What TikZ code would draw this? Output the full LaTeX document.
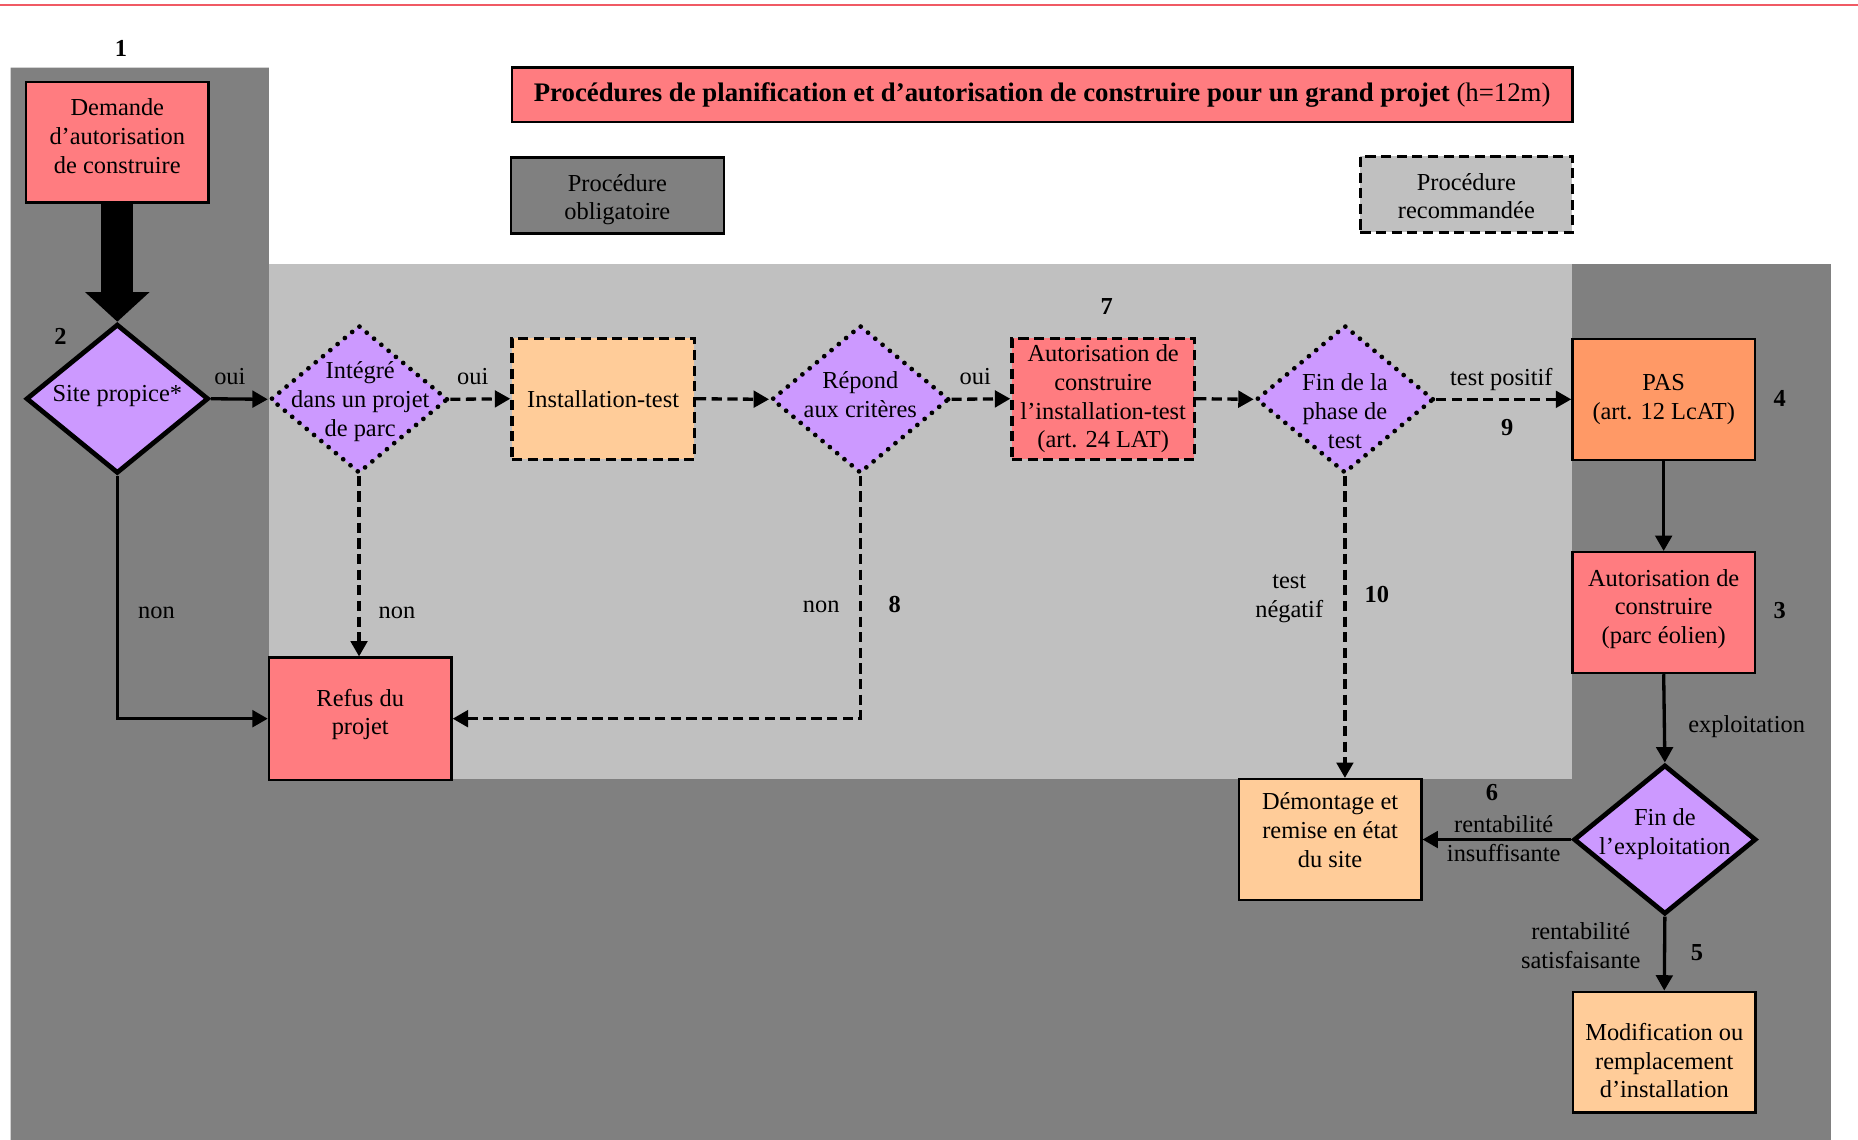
\documentclass[tikz,border=0pt]{standalone}
\usepackage{fontspec}
\setmainfont{Liberation Serif}
\usetikzlibrary{shapes.geometric,arrows.meta}
\definecolor{rosebox}{RGB}{255,124,128}
\definecolor{lav}{RGB}{204,153,255}
\definecolor{peach}{RGB}{255,204,153}
\definecolor{orangebox}{RGB}{255,153,102}
\definecolor{dgray}{RGB}{128,128,128}
\definecolor{lgray}{RGB}{192,192,192}
\definecolor{topred}{RGB}{240,90,100}
\newcommand\myfs{\fontsize{10.3}{12.2}\selectfont}
\begin{document}
\begin{tikzpicture}[x=0.5pt,y=-0.5pt,
  box/.style={draw, line width=1pt, inner sep=1pt, align=center, font=\myfs, minimum width=77pt, minimum height=51pt},
  dashbox/.style={box, line width=1.4pt, dash pattern=on 4.3pt off 2.3pt},
  sdiam/.style={diamond, draw, line width=2pt, fill=lav, inner sep=0pt, minimum width=77pt, minimum height=63pt},
  ddiam/.style={diamond, draw, fill=lav, line width=2pt, line cap=round, dash pattern=on 0pt off 4pt, inner sep=0pt, minimum width=75pt, minimum height=62.5pt},
  txt/.style={font=\myfs, align=center, inner sep=0pt},
  num/.style={font=\myfs\bfseries, inner sep=0pt},
  conn/.style={line width=1.4pt, -{Triangle[length=6.5pt,width=7pt]}},
  dconn/.style={conn, dash pattern=on 4.3pt off 2.3pt},
]
% background
\useasboundingbox (0,0) rectangle (1568,962);
\fill[white] (0,0) rectangle (1568,962);
\draw[topred, line width=1pt] (0,4) -- (1568,4);
\fill[dgray] (9,57) -- (227,57) -- (227,223) -- (1545,223) -- (1545,962) -- (9,962) -- cycle;
\fill[lgray] (227,223) rectangle (1327,657);

% title and legend
\node[box, fill=rosebox, minimum width=447.5pt, minimum height=23pt, font=\fontsize{11.3}{13}\selectfont] (title) at (879.5,80)
  {\textbf{Procédures de planification et d’autorisation de construire pour un grand projet} (h=12m)};
\node[box, fill=dgray, minimum width=90pt, minimum height=32pt] (leg1) at (521,165) {};
\node[txt] (leg1T) at (521,168.5) {Procédure\\obligatoire};
\node[dashbox, fill=lgray, minimum width=89.5pt, minimum height=32pt] (leg2) at (1237.5,164) {};
\node[txt] (leg2T) at (1237.5,165.5) {Procédure\\recommandée};

% nodes
\node[box, fill=rosebox] (dem) at (99,120) {};
\node[txt] (demT) at (99,115) {Demande\\d’autorisation\\de construire};
\node[sdiam] (site) at (99,336.5) {};
\node[txt] (siteT) at (99,334) {Site propice*};
\node[ddiam] (integ) at (303,337) {};
\node[txt] (integT) at (304,339) {Intégré\\dans un projet\\de parc};
\node[dashbox, fill=peach] (inst) at (509,336.5) {Installation-test};
\node[ddiam] (rep) at (726,337) {};
\node[txt] (repT) at (726,333) {Répond\\aux critères};
\node[dashbox, fill=rosebox] (aut7) at (931,336.5) {Autorisation de\\construire\\l’installation-test\\(art. 24 LAT)};
\node[ddiam] (fin) at (1135,337) {};
\node[txt] (finT) at (1135,347) {Fin de la\\phase de\\test};
\node[box, fill=orangebox] (pas) at (1404,337) {PAS\\(art. 12 LcAT)};
\node[box, fill=rosebox] (aut3) at (1404,517) {};
\node[txt] (aut3T) at (1404,514) {Autorisation de\\construire\\(parc éolien)};
\node[sdiam] (fexp) at (1405,708.5) {};
\node[txt] (fexpT) at (1405,704) {Fin de\\l’exploitation};
\node[box, fill=peach] (demo) at (1122.5,708.5) {};
\node[txt] (demoT) at (1122.5,700.5) {Démontage et\\remise en état\\du site};
\node[box, fill=peach] (modif) at (1404.5,888) {};
\node[txt] (modifT) at (1404.5,895) {Modification ou\\remplacement\\d’installation};
\node[box, fill=rosebox, minimum height=51.5pt] (refus) at (304,606.5) {};
\node[txt] (refusT) at (304,603) {Refus du\\projet};

% connectors
\draw[line width=13.5pt, -{Triangle[length=12.5pt,width=26.5pt]}] (dem.south) -- (site.north);
\draw[conn] (site.east) -- (integ.west);
\draw[dconn] (integ.east) -- (inst.west);
\draw[dconn] (inst.east) -- (rep.west);
\draw[dconn] (rep.east) -- (aut7.west);
\draw[dconn] (aut7.east) -- (fin.west);
\draw[dconn] (fin.east) -- (pas.west);
\draw[conn] (pas.south) -- (aut3.north);
\draw[conn] (aut3.south) -- (fexp.north);
\draw[conn] (fexp.west) -- (demo.east);
\draw[conn] (fexp.south) -- (modif.north);
\draw[dconn] (fin.south) -- (fin.south |- demo.north);
\draw[dconn] (integ.south) -- (integ.south |- refus.north);
\draw[dconn] (rep.south) |- (refus.east);
\draw[conn] (site.south) |- (refus.west);

% labels
\node[num] (n1) at (102,41) {1};
\node[num] (n2) at (51,284) {2};
\node[num] (n7) at (934,259) {7};
\node[num] (n9) at (1272,361) {9};
\node[num] (n4) at (1502,336) {4};
\node[num] (n3) at (1502,515) {3};
\node[num] (n6) at (1259,669) {6};
\node[num] (n5) at (1432,804) {5};
\node[num] (n10) at (1162,502) {10};
\node[num] (n8) at (755,510) {8};
\node[txt] (oui1) at (194,318) {oui};
\node[txt] (oui2) at (399,318) {oui};
\node[txt] (oui3) at (823,318) {oui};
\node[txt] (tpos) at (1267,320) {test positif};
\node[txt] (expl) at (1474,613) {exploitation};
\node[txt] (rins) at (1269,708) {rentabilité\\insuffisante};
\node[txt] (rsat) at (1334,798) {rentabilité\\satisfaisante};
\node[txt] (tneg) at (1088,505) {test\\négatif};
\node[txt] (non1) at (132,517) {non};
\node[txt] (non2) at (335,517) {non};
\node[txt] (non3) at (693,512) {non};
\end{tikzpicture}
\end{document}
